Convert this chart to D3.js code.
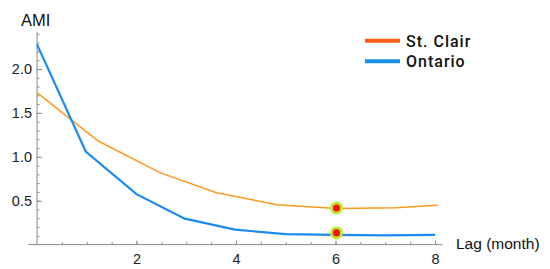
<!DOCTYPE html>
<html>
<head>
<meta charset="utf-8">
<script src="https://cdn.jsdelivr.net/npm/d3@7"></script>
<style>
  body { margin: 0; background: #fff; }
  svg { display: block; font-family: "Liberation Sans", Arial, sans-serif; }
  .tick text { fill: #222; font-size: 14.5px; }
</style>
</head>
<body>
<div id="viz"></div>
<script>
// St. Clair (orange) samples
var stClairLag = [0, 1.23, 2.47, 3.61, 4.82, 6.03, 7.2, 8.06];
var stClairAmi = [1.73, 1.18, 0.82, 0.59, 0.455, 0.41, 0.42, 0.447];
// Ontario (blue) samples
var ontarioLag = [0, 0.98, 2, 2.97, 3.98, 5, 6, 7, 8];
var ontarioAmi = [2.28, 1.06, 0.575, 0.295, 0.17, 0.12, 0.11, 0.105, 0.11];
// highlighted minima
var markLag = [6.02, 6.02];
var markAmi = [0.417, 0.133];

var xTicks = [2, 4, 6, 8];
var yTicks = [0.5, 1.0, 1.5, 2.0];

var seriesNames = ["St. Clair", "Ontario"];
var legendColors = ["#ff5c14", "#1a90e8"];

var svg = d3.select("#viz")
    .append("svg")
    .attr("width", 550)
    .attr("height", 269);

var x = d3.scaleLinear().domain([0, 8]).range([37, 435]);
var y = d3.scaleLinear().domain([0, 2]).range([244.6, 69.0]);

var axisColor = "#8a8a8a";

// minor ticks
var gMinorX = svg.append("g")
    .attr("transform", "translate(0," + y(0) + ")")
    .call(d3.axisBottom(x).tickValues(d3.range(0.5, 8.01, 0.5)).tickSize(-2.5).tickFormat(""));
var gMinorY = svg.append("g")
    .attr("transform", "translate(" + x(0) + ",0)")
    .call(d3.axisLeft(y).tickValues(d3.range(0.1, 2.41, 0.1)).tickSize(-2.5).tickFormat(""));

// major ticks with labels
var gx = svg.append("g")
    .attr("transform", "translate(0," + y(0) + ")")
    .call(d3.axisBottom(x).tickValues(xTicks).tickSize(-4).tickPadding(9).tickFormat(d3.format("d")));
var gy = svg.append("g")
    .attr("transform", "translate(" + x(0) + ",0)")
    .call(d3.axisLeft(y).tickValues(yTicks).tickSize(-5).tickPadding(5).tickFormat(d3.format(".1f")));

[gMinorX, gMinorY, gx, gy].forEach(function(g) {
    g.select(".domain").remove();
    g.selectAll(".tick line").attr("stroke", axisColor);
});

// axis lines
svg.append("line")
    .attr("x1", x(-0.18)).attr("x2", x(8.15))
    .attr("y1", y(0)).attr("y2", y(0))
    .attr("stroke", axisColor);
svg.append("line")
    .attr("x1", x(0)).attr("x2", x(0))
    .attr("y1", y(0)).attr("y2", y(2.42))
    .attr("stroke", axisColor);

svg.append("text")
    .text("AMI")
    .attr("x", 21)
    .attr("y", 26)
    .attr("font-size", 16.5)
    .attr("fill", "#111");
svg.append("text")
    .text("Lag (month)")
    .attr("x", 456)
    .attr("y", 249)
    .attr("font-size", 15.5)
    .attr("fill", "#111");

var line = d3.line()
    .x(function(d) { return x(d[0]); })
    .y(function(d) { return y(d[1]); });

svg.append("path")
    .datum(d3.zip(stClairLag, stClairAmi))
    .attr("d", line)
    .attr("fill", "none")
    .attr("stroke", "#ff9820")
    .attr("stroke-width", 1.5);

svg.append("path")
    .datum(d3.zip(ontarioLag, ontarioAmi))
    .attr("d", line)
    .attr("fill", "none")
    .attr("stroke", "#1a8cf0")
    .attr("stroke-width", 2.2);

var marks = svg.selectAll(".mark")
    .data(d3.zip(markLag, markAmi))
    .enter().append("g")
    .attr("class", "mark")
    .attr("transform", function(d) { return "translate(" + x(d[0]) + "," + y(d[1]) + ")"; });
marks.append("ellipse").attr("rx", 6.5).attr("ry", 6.5).attr("fill", "#bde832");
marks.append("circle").attr("r", 3.6).attr("fill", "#ff1010");

// legend
var legend = svg.selectAll(".legend")
    .data(seriesNames)
    .enter().append("g")
    .attr("class", "legend")
    .attr("transform", function(d, i) { return "translate(365," + (40.7 + i * 20.6) + ")"; });
legend.append("line")
    .attr("x1", 0).attr("x2", 35)
    .attr("stroke", function(d, i) { return legendColors[i]; })
    .attr("stroke-width", 4);
legend.append("text")
    .text(function(d) { return d; })
    .attr("x", 41)
    .attr("y", 6)
    .attr("font-family", "Roboto, sans-serif")
    .attr("font-weight", 500)
    .attr("font-size", 16)
    .attr("letter-spacing", 1)
    .attr("fill", "#111");
</script>
</body>
</html>
